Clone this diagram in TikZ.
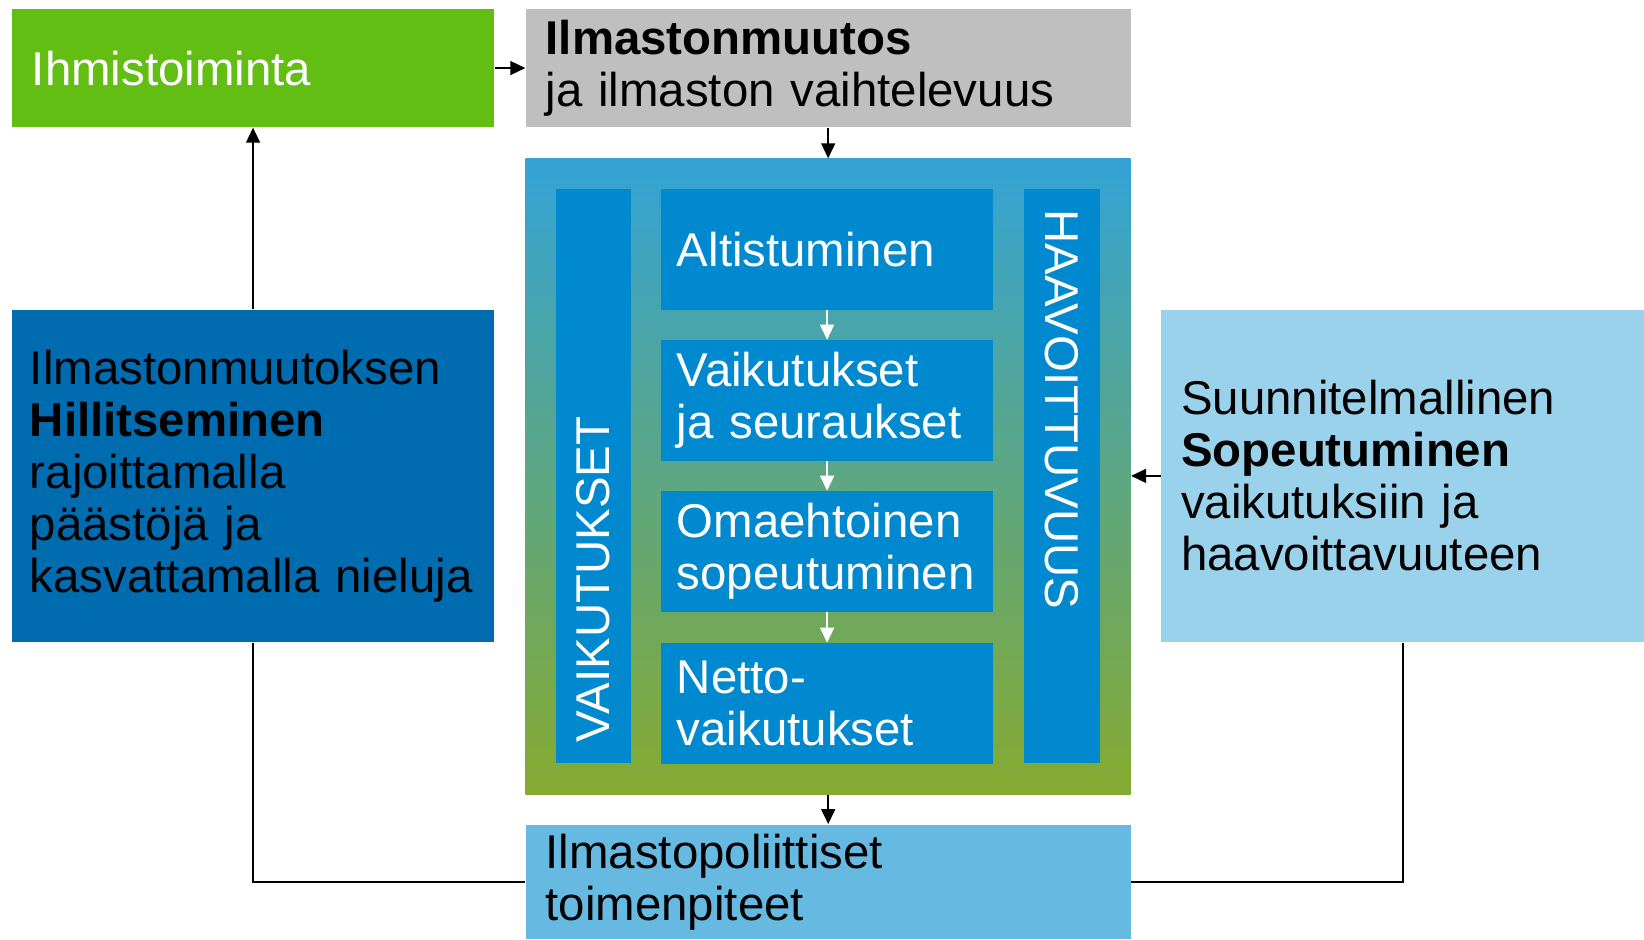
\documentclass[tikz,border=0pt]{standalone}
\usepackage{fontspec}
\setmainfont{Liberation Sans}
\usetikzlibrary{arrows.meta}
\definecolor{vihrea}{RGB}{99,190,20}
\definecolor{harmaa}{RGB}{191,191,191}
\definecolor{tummasini}{RGB}{0,108,176}
\definecolor{vaaleasini}{RGB}{155,210,235}
\definecolor{alasini}{RGB}{102,185,224}
\definecolor{sisasini}{RGB}{0,137,206}
\definecolor{kehysyla}{RGB}{51,163,214}
\definecolor{kehyskeski}{RGB}{84,166,150}
\definecolor{kehysala}{RGB}{134,170,48}
\begin{document}
\begin{tikzpicture}[x=0.5pt,y=-0.5pt,
        laatikko/.style={rectangle,anchor=north west,inner ysep=0pt,inner xsep=10pt,align=left,
            font=\fontsize{23.7}{26}\selectfont},
        sisa/.style={laatikko,fill=sisasini,text=white,inner xsep=8pt,text width=150.2pt,minimum height=60.3pt},
        palkki/.style={rectangle,fill=sisasini,text=white,inner ysep=0pt,inner xsep=10.5pt,align=left,
            text width=266.3pt,minimum height=37.75pt,font=\fontsize{23.7}{26}\selectfont},
        nuoli/.style={-{Triangle[length=7.5pt,width=7pt]},line width=0.8pt},
        valkonuoli/.style={nuoli,white}]
                \useasboundingbox (0,0) rectangle (1644,939);
                \node[laatikko,fill=vihrea,text=white,text width=221.15pt,minimum height=59.25pt] (ihmis) at (11.5,8.4) {Ihmistoiminta};
                \node[laatikko,fill=harmaa,text width=282.5pt,minimum height=59.25pt] (muutos) at (525.3,8.4) {\textbf{Ilmastonmuutos}\\ja ilmaston vaihtelevuus};
                \node[rectangle,anchor=north west,inner sep=0pt,minimum width=302.5pt,minimum height=317.7pt,
                    top color=kehysyla,middle color=kehyskeski,bottom color=kehysala] (kehys) at (525.3,158.3) {};
                \node[palkki,rotate=90] (vaik) at (593.5,476) {VAIKUTUKSET};
                \node[palkki,rotate=-90] (haav) at (1062.2,476) {HAAVOITTUVUUS};
                \node[sisa] (alt) at (660.5,188.7) {Altistuminen};
                \node[sisa] (seur) at (660.5,339.7) {Vaikutukset\\ja seuraukset};
                \node[sisa] (omae) at (660.5,490.7) {Omaehtoinen\\sopeutuminen};
                \node[sisa] (netto) at (660.5,642.7) {Netto-\\vaikutukset};
                \node[laatikko,fill=tummasini,inner xsep=9pt,text width=223.15pt,minimum height=166.2pt] (hill) at (11.5,309.3)
                    {Ilmastonmuutoksen\\\textbf{Hillitseminen}\\rajoittamalla\\päästöjä ja\\kasvattamalla nieluja};
                \node[laatikko,fill=vaaleasini,text width=221.65pt,minimum height=166.2pt] (sopeu) at (1160.7,309.3)
                    {Suunnitelmallinen\\\textbf{Sopeutuminen}\\vaikutuksiin ja\\haavoittavuuteen};
                \node[laatikko,fill=alasini,text width=282.5pt,minimum height=57.45pt] (toimen) at (525.3,824.1)
                    {Ilmastopoliittiset\\toimenpiteet};
                \draw[nuoli] (ihmis.east) -- (muutos.west);
                \draw[nuoli] (muutos.south) -- (kehys.north);
                \draw[nuoli] (kehys.south) -- (toimen.north);
                \draw[nuoli] (sopeu.west) -- (sopeu.west -| kehys.east);
                \draw[nuoli] (hill.north) -- (ihmis.south);
                \draw[line width=0.8pt] (hill.south) |- (toimen.west);
                \draw[line width=0.8pt] (sopeu.south) |- (toimen.east);
                \draw[valkonuoli] (alt.south) -- (seur.north);
                \draw[valkonuoli] (seur.south) -- (omae.north);
                \draw[valkonuoli] (omae.south) -- (netto.north);
            \end{tikzpicture}
\end{document}
